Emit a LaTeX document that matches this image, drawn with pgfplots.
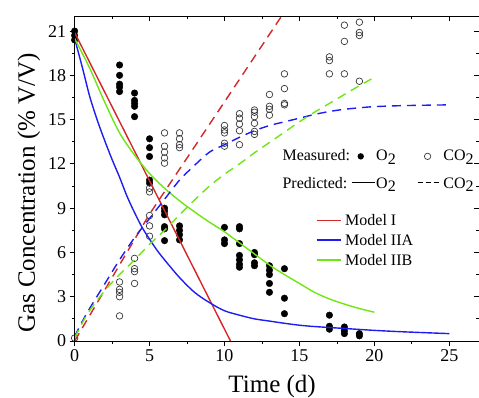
\documentclass[border=0pt]{standalone}
\usepackage{fontspec}
\setmainfont{Liberation Serif}
\usepackage{pgfplots}
\pgfplotsset{compat=1.18}
\definecolor{mred}{RGB}{210,40,40}
\definecolor{mblue}{RGB}{30,30,240}
\definecolor{mgreen}{RGB}{110,230,20}
\definecolor{ogray}{RGB}{55,55,55}
\newcommand{\sub}[1]{\raisebox{-3.5pt}{#1}}
\begin{document}
\begin{tikzpicture}
\pgfplotsset{
  frame/.style={at={(0pt,0pt)}, anchor=south west, scale only axis,
    width=404.7pt, height=324.7pt, xmin=0, xmax=27, ymin=0, ymax=22,
    xtick={0,5,...,25}, ytick={0,3,...,21}, minor x tick num=1, minor y tick num=1,
    major tick length=5pt, minor tick length=3pt,
    every tick/.style={black, line width=0.8pt},
    axis line style={line width=0.8pt}}
}
\begin{axis}[frame,
  xtick pos=left, ytick pos=left, tick align=outside,
  tick label style={font=\fontsize{18}{18}\selectfont},
  /pgf/number format/assume math mode=true,
  xlabel={Time (d)}, ylabel={Gas Concentration (\% V/V)},
  label style={font=\fontsize{25}{25}\selectfont},
  xlabel style={at={(axis description cs:0.488,-0.160)}, anchor=base},
  ylabel style={at={(axis description cs:-0.098,0.456)}, anchor=base},
  clip mode=individual,
]
% measured O2
\addplot[only marks, mark=*, mark size=3.3pt, black] coordinates {
(0,20.4)(0,20.7)(0,21.0)
(3,18.7)(3,18.0)(3,17.4)(3,17.2)(3,16.9)
(4,16.8)(4,16.3)(4,16.1)(4,15.9)(4,15.2)
(5,13.7)(5,13.1)(5,12.5)(5,10.9)(5,10.7)
(6,9.0)(6,8.8)(6,8.55)(6,7.75)(6,7.6)(6,6.8)
(7,7.8)(7,7.5)(7,7.2)(7,6.85)
(10,7.7)(10,6.85)(10,6.6)
(11,7.75)(11,7.6)(11,6.6)(11,5.8)(11,5.5)(11,5.2)(11,5.0)
(12,6.0)(12,5.85)(12,5.3)(12,5.1)
(13,5.1)(13,4.8)(13,4.5)(13,3.9)(13,3.3)
(14,4.9)(14,2.9)(14,1.85)
(17,1.75)(17,1.0)(17,0.8)
(18,0.95)(18,0.7)(18,0.5)
(19,0.5)(19,0.35)
};
% measured CO2
\addplot[only marks, mark=o, mark size=3.3pt, mark options={draw=ogray, line width=0.7pt}] coordinates {
(0,0.2)
(3,4.0)(3,3.5)(3,3.3)(3,3.0)(3,1.7)
(4,5.6)(4,4.9)(4,4.7)(4,3.9)
(5,10.35)(5,10.1)(5,8.5)(5,7.8)(5,7.1)
(6,14.1)(6,13.2)(6,12.8)(6,12.4)(6,12.05)
(7,14.1)(7,13.7)(7,13.3)(7,13.1)
(10,14.6)(10,14.3)(10,14.1)(10,13.4)(10,13.2)
(11,15.4)(11,15.1)(11,14.7)(11,14.25)(11,13.3)
(12,15.65)(12,15.5)(12,15.2)(12,14.75)(12,14.2)(12,14.0)
(13,16.7)(13,15.9)(13,15.7)(13,15.3)
(14,18.1)(14,17.1)(14,16.1)(14,16.0)
(17,19.25)(17,19.0)(17,18.1)
(18,21.4)(18,20.3)(18,18.1)
(19,21.6)(19,20.9)(19,20.7)(19,17.6)
};
% predicted O2
\addplot[mred, line width=1.4pt] coordinates {(0,20.9)(10.4,0)};
\addplot[mblue, line width=1.4pt, smooth] coordinates {
(0,20.5)(0.5,18.6)(1,16.6)(1.5,15.0)(2,13.6)(2.5,12.3)(3,11.1)(3.5,9.8)(4,8.7)(4.5,7.7)
(5,6.9)(5.5,6.15)(6,5.5)(7,4.3)(8,3.3)(9,2.6)(10,2.05)(11,1.75)(12,1.5)(13,1.35)(14,1.2)
(15,1.07)(16,0.98)(18,0.85)(20,0.72)(22,0.62)(25,0.5)};
\addplot[mgreen, line width=1.4pt, smooth] coordinates {
(0,20.5)(1,18.5)(2,16.2)(3,14.1)(4,12.6)(5,11.35)(6,10.35)(7,9.5)(8,8.75)(9,8.05)(10,7.4)
(11,6.65)(12,5.9)(13,5.15)(14,4.5)(15,3.9)(16,3.3)(17,2.85)(18,2.5)(19,2.2)(20,1.95)};
% predicted CO2
\addplot[mred, line width=1.4pt, dash pattern=on 9pt off 6pt] coordinates {
(0,0)(5,8.6)(10,16.2)(13.8,22)};
\addplot[mblue, line width=1.4pt, dash pattern=on 9pt off 6pt, smooth] coordinates {
(0,0.3)(0.5,1.3)(1,2.2)(2,3.85)(3,5.5)(4,7.0)(5,8.3)(6,9.6)(7,10.9)(8,11.9)(9,12.8)(10,13.3)
(11,13.8)(12,14.25)(13,14.6)(14,14.85)(15,15.1)(16,15.35)(17,15.55)(18,15.7)(19,15.8)
(20,15.88)(22,15.95)(25,16.0)};
\addplot[mgreen, line width=1.4pt, dash pattern=on 9pt off 6pt, smooth] coordinates {
(0,0.2)(0.5,1.2)(1,2.05)(2,3.4)(3,4.5)(4,5.5)(5,6.55)(6,7.5)(7,8.55)(8,9.55)(9,10.5)
(10,11.3)(11,12.0)(12,12.75)(13,13.45)(14,14.15)(15,14.85)(16,15.5)(17,16.1)(18,16.7)
(19,17.3)(19.8,17.75)};
% keys
\begin{scope}[every node/.style={inner sep=0pt, font=\fontsize{16}{16}\selectfont}]
\node[anchor=base west] at (axis cs:13.86,12.20) {Measured:};
\node[circle, fill=black, minimum size=6.4pt] at (axis cs:19.09,12.51) {};
\node[anchor=base west] at (axis cs:20.11,12.20) {O\sub{2}};
\node[circle, draw=ogray, line width=0.7pt, minimum size=6.4pt] at (axis cs:23.55,12.51) {};
\node[anchor=base west] at (axis cs:24.59,12.20) {CO\sub{2}};
\node[anchor=base west] at (axis cs:13.86,10.35) {Predicted:};
\draw[black, line width=1pt] (axis cs:18.48,10.73) -- (axis cs:20.03,10.73);
\node[anchor=base west] at (axis cs:20.11,10.35) {O\sub{2}};
\draw[black, line width=1pt, dash pattern=on 4.5pt off 3.5pt] (axis cs:22.93,10.73) -- (axis cs:24.38,10.73);
\node[anchor=base west] at (axis cs:24.59,10.35) {CO\sub{2}};
\draw[mred, line width=1.4pt] (axis cs:16.15,8.15) -- (axis cs:17.77,8.15);
\node[anchor=base west] at (axis cs:18.04,7.80) {Model I};
\draw[mblue, line width=1.4pt] (axis cs:16.15,6.84) -- (axis cs:17.77,6.84);
\node[anchor=base west] at (axis cs:18.04,6.49) {Model IIA};
\draw[mgreen, line width=1.4pt] (axis cs:16.15,5.49) -- (axis cs:17.77,5.49);
\node[anchor=base west] at (axis cs:18.04,5.14) {Model IIB};
\end{scope}
\end{axis}
\begin{axis}[frame, xtick pos=right, ytick pos=right, tick align=inside,
  xticklabels={}, yticklabels={}]
\end{axis}
\pgfresetboundingbox
\useasboundingbox (-74.6pt,-56pt) rectangle (404.4pt,341pt);
\end{tikzpicture}
\end{document}
